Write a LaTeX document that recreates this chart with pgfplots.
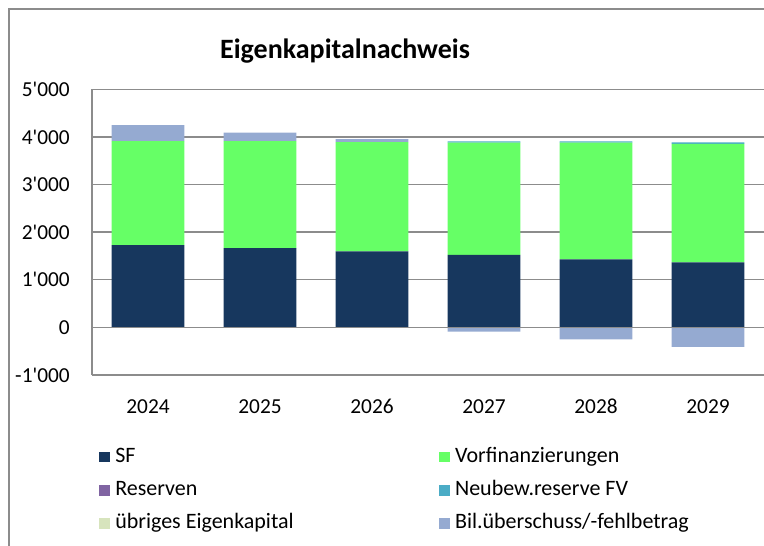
\documentclass[border=0pt]{standalone}
\usepackage{fontspec}
\setmainfont{Carlito}
\usepackage{pgfplots}
\pgfplotsset{compat=1.18}
\usepackage{pgfplotstable}

\definecolor{sfblue}{HTML}{17375E}
\definecolor{vorgreen}{HTML}{66FF66}
\definecolor{respurple}{HTML}{8064A2}
\definecolor{neuteal}{HTML}{4BACC6}
\definecolor{uebrig}{HTML}{D7E4BD}
\definecolor{bilblue}{HTML}{95AAD1}
\definecolor{gridgray}{HTML}{8C8C8C}

% Eigenkapital per year (0 = 2024 ... 5 = 2029)
\pgfplotstableread{
x SF   Vorfin Reserven Neubew Uebrig BilPos BilNeg
0 1727 2183   0        0      0      336    0
1 1664 2246   0        0      0      182    0
2 1594 2295   0        0      0      63     0
3 1524 2358   0        25     0      0      -90
4 1426 2456   0        25     0      0      -250
5 1363 2490   0        30     0      0      -410
}\datatable

\pgfplotsset{
  chartaxis/.style={
    scale only axis, width=504pt, height=214.3pt,
    at={(69pt,-281.25pt)}, anchor=south west,
    xmin=-0.5, xmax=5.5, ymin=-1000, ymax=5000,
  },
  sqleg/.style={legend image code/.code={\fill[##1,draw=none] (0pt,-4pt) rectangle (8pt,4pt);}},
}

\begin{document}
\begin{tikzpicture}
\path[use as bounding box] (0,0) rectangle (573pt,-409.5pt);
\draw[gridgray, line width=1.5pt] (6.75pt,-420pt) -- (6.75pt,-6.75pt) -- (580pt,-6.75pt);
\node[font=\bfseries\fontsize{21}{25}\selectfont, anchor=base] at (258.75pt,-43.5pt) {Eigenkapitalnachweis};

\begin{axis}[chartaxis,
  ybar stacked, bar width=0.65,
  axis lines*=left, axis line style={gridgray, line width=1.1pt, -},
  ymajorgrids, grid style={gridgray, line width=1.1pt},
  ytick={-1000,0,...,5000},
  xtick={0,...,5}, xticklabels={2024,2025,2026,2027,2028,2029},
  major tick length=0pt,
  tick label style={font=\fontsize{16}{19}\selectfont, inner sep=0pt},
  yticklabel style={anchor=east, xshift=-16.5pt},
  xticklabel style={anchor=north, yshift=-17.5pt, text height=11pt, text depth=0pt},
  /pgf/number format/assume math mode=true,
  /pgf/number format/1000 sep={\textquotesingle},
  legend columns=2, legend cell align=left,
  legend style={at={(0.0104,-0.2485)}, anchor=north west, draw=none, fill=none,
    inner sep=0pt, font=\fontsize{16.5}{19}\selectfont,
    nodes={inner sep=0pt, text height=12pt, text depth=4pt},
    row sep=9pt,
    /tikz/every odd column/.style={column sep=4pt},
    /tikz/column 2/.style={column sep=109pt}},
]
\addplot[fill=sfblue, draw=none, sqleg] table[x=x,y=SF]{\datatable};
\addlegendentry{SF}
\addplot[fill=vorgreen, draw=none, sqleg] table[x=x,y=Vorfin]{\datatable};
\addlegendentry{Vorfinanzierungen}
\addplot[fill=respurple, draw=none, sqleg] table[x=x,y=Reserven]{\datatable};
\addlegendentry{Reserven}
\addplot[fill=neuteal, draw=none, sqleg] table[x=x,y=Neubew]{\datatable};
\addlegendentry{Neubew.reserve FV}
\addplot[fill=uebrig, draw=none, sqleg] table[x=x,y=Uebrig]{\datatable};
\addlegendentry{übriges Eigenkapital}
\addplot[fill=bilblue, draw=none, sqleg] table[x=x,y=BilPos]{\datatable};
\addlegendentry{Bil.überschuss/-fehlbetrag}
\end{axis}

% negative balance drawn downward from zero, as the spreadsheet does
\begin{axis}[chartaxis,
  ybar, bar width=0.65, bar shift=0pt,
  axis x line=middle, axis y line=none,
  axis line style={gridgray, line width=1.1pt, -},
  xtick=\empty, ytick=\empty, axis on top,
]
\addplot[fill=bilblue, draw=none] table[x=x,y=BilNeg]{\datatable};
\end{axis}
\end{tikzpicture}
\end{document}
